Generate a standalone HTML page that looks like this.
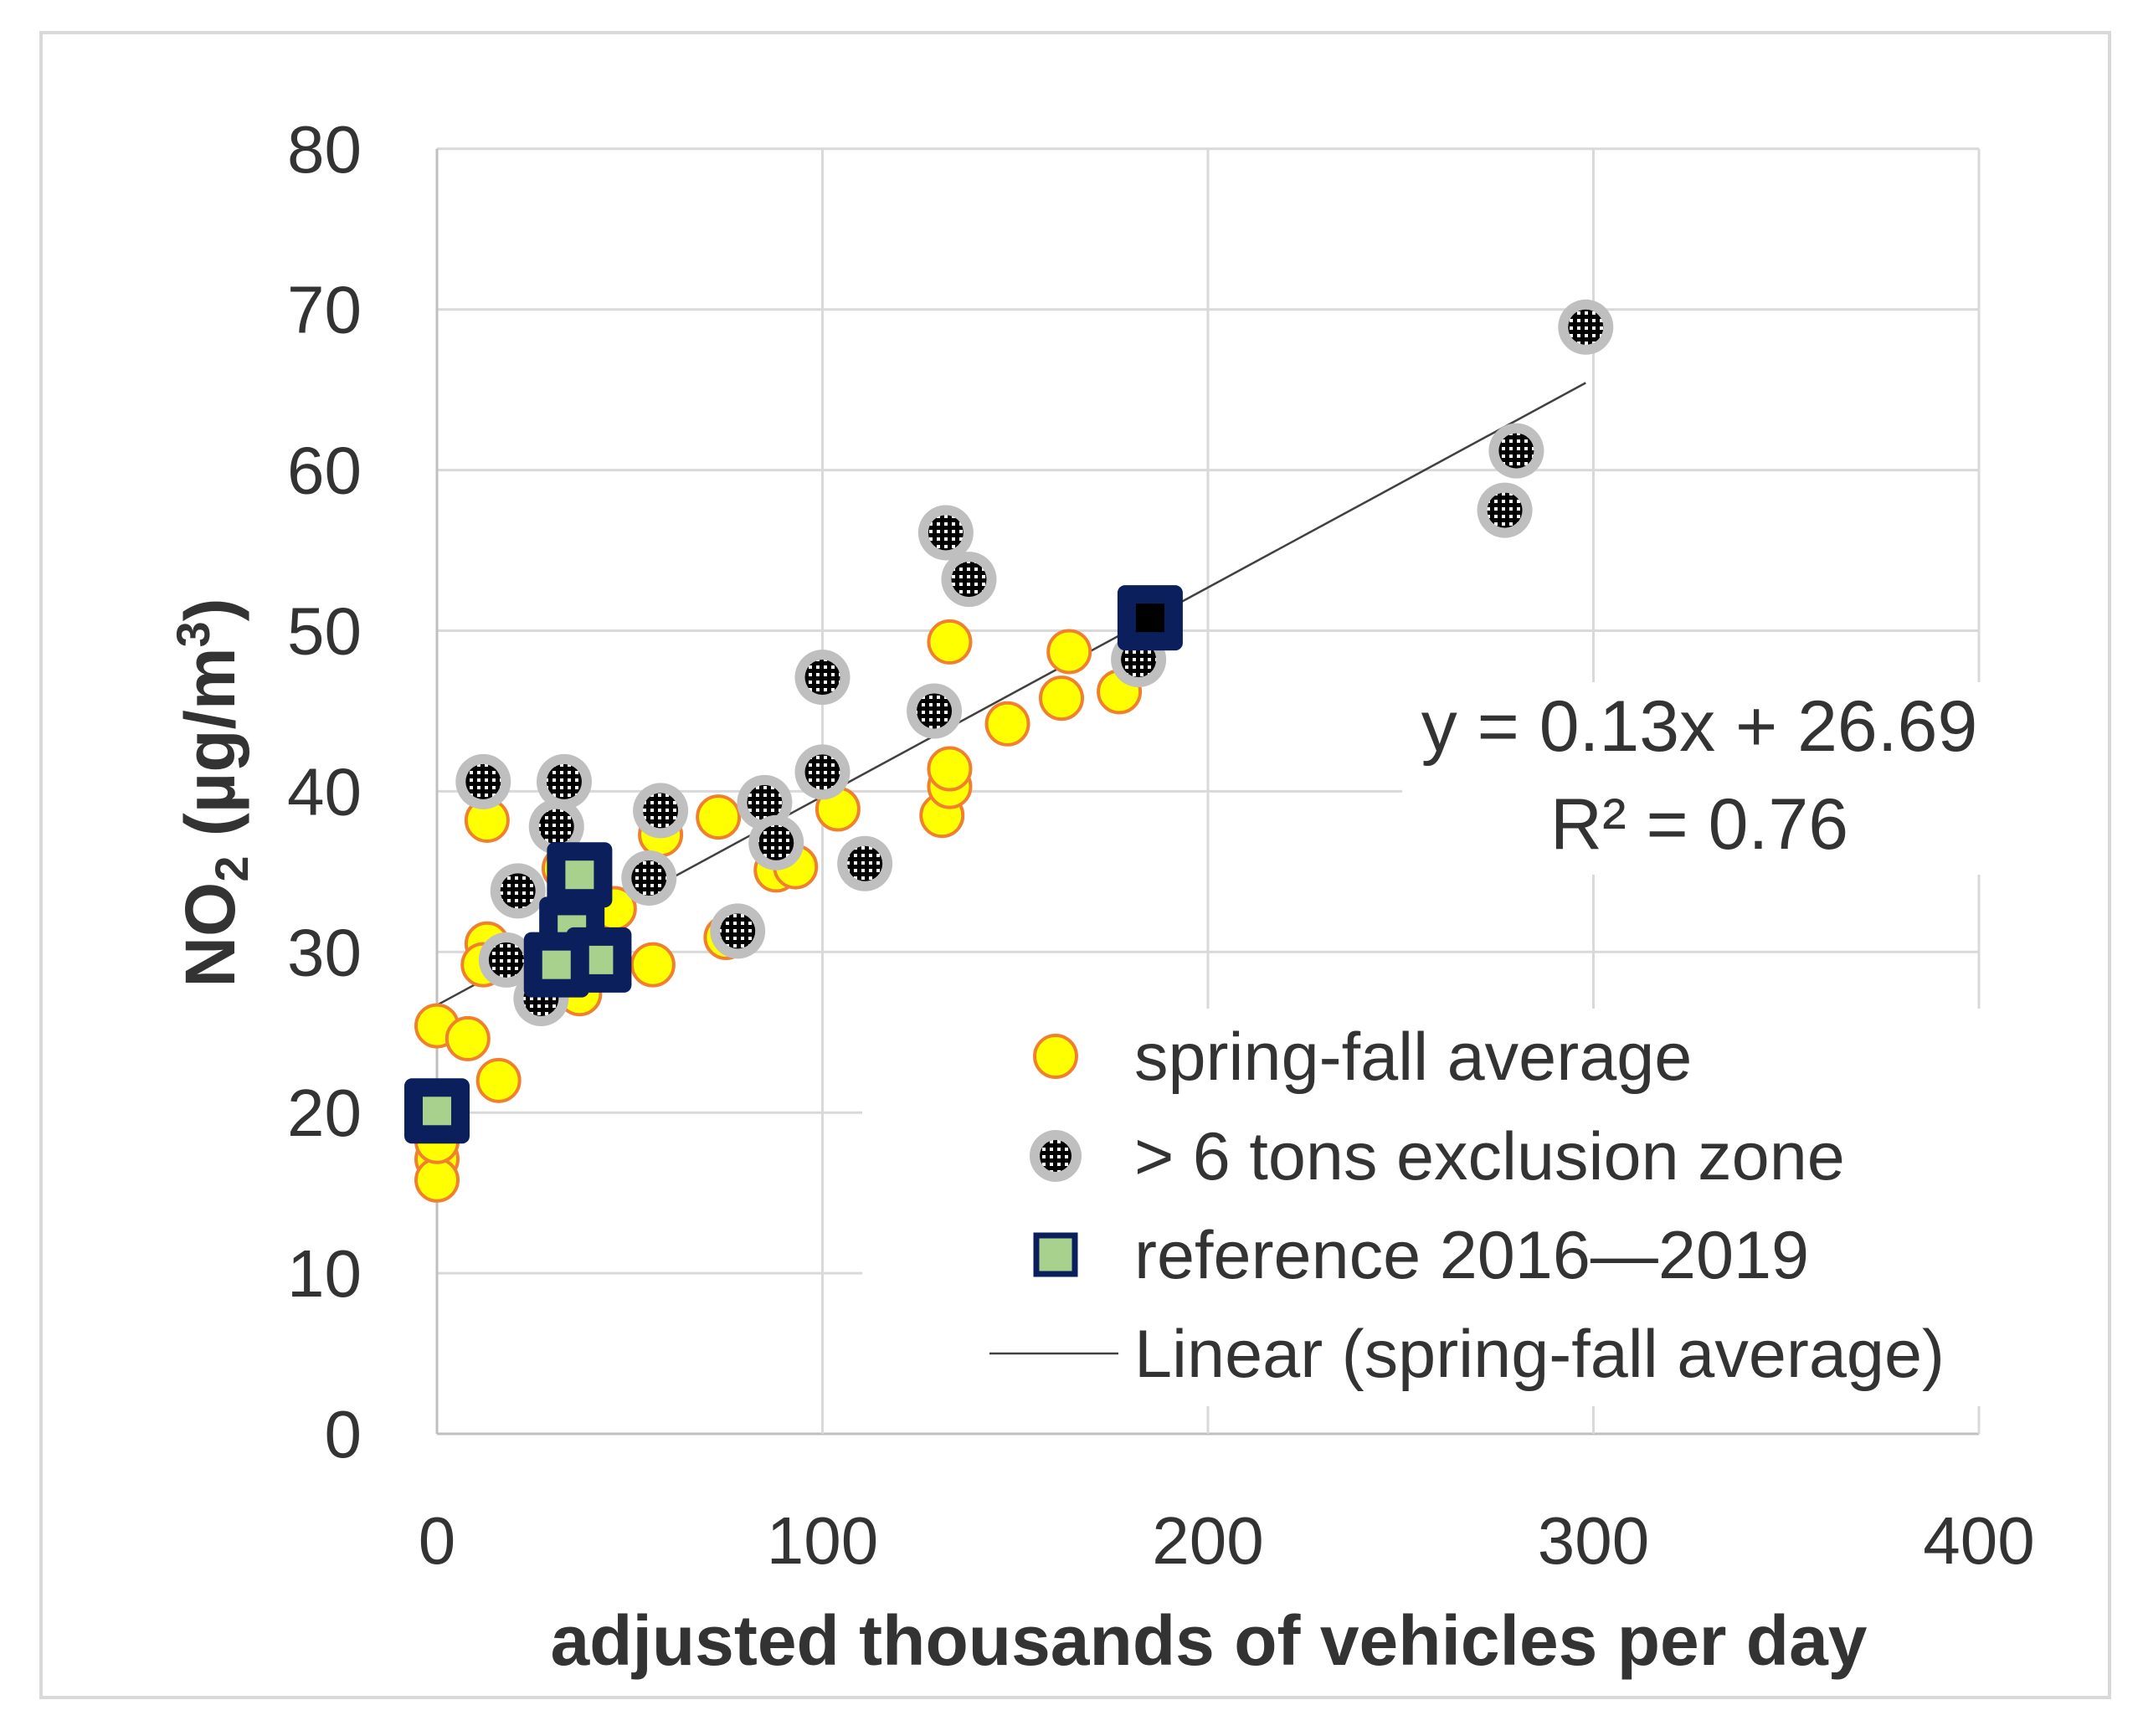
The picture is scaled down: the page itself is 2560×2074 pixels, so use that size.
<!DOCTYPE html>
<html><head><meta charset="utf-8"><style>
html,body{margin:0;padding:0;background:#fff;}
svg{display:block;font-family:"Liberation Sans",sans-serif;}
</style></head><body>
<svg id="chart" width="2560" height="2074" viewBox="0 0 2560 2074">
<defs>
<pattern id="dots" width="9" height="9" patternUnits="userSpaceOnUse"><rect width="9" height="9" fill="#000"/><rect x="3" y="3" width="4" height="4" fill="#fff"/></pattern>
</defs>
<rect x="49" y="39" width="2471" height="1989" fill="#fff" stroke="#d9d9d9" stroke-width="4"/>
<g id="grid"></g>
<g id="ticks"></g>
<line id="trend" stroke="#404040" stroke-width="2.5"/>
<g id="marks"></g>
<rect x="1675" y="815" width="700" height="230" fill="#fff"/>
<text x="2030" y="897" font-size="86" text-anchor="middle" fill="#333">y = 0.13x + 26.69</text>
<text x="2030" y="1014" font-size="86" text-anchor="middle" fill="#333">R² = 0.76</text>
<g id="legend">
<rect x="1030" y="1205" width="1340" height="475" fill="#fff"/>
<g><circle cx="1261" cy="1262" r="25" fill="#ffff00" stroke="#f08030" stroke-width="4"/><text x="1355" y="1290" font-size="81" fill="#333">spring-fall average</text></g>
<g><circle cx="1261" cy="1381" r="31" fill="#bfbfbf"/><circle cx="1261" cy="1381" r="19" fill="url(#dots)"/><text x="1355" y="1409" font-size="81" fill="#333">&gt; 6 tons exclusion zone</text></g>
<g><rect x="1238" y="1476" width="46" height="46" fill="#a9d18e" stroke="#0a1f5c" stroke-width="7"/><text x="1355" y="1527" font-size="81" fill="#333">reference 2016—2019</text></g>
<g><line x1="1182" y1="1617" x2="1336" y2="1617" stroke="#404040" stroke-width="2.5"/><text x="1355" y="1645" font-size="81" fill="#333">Linear (spring-fall average)</text></g>
</g>
<text x="1444" y="1989" font-size="84" font-weight="bold" text-anchor="middle" fill="#333">adjusted thousands of vehicles per day</text>
<text transform="translate(280,947) rotate(-90)" font-size="84" font-weight="bold" text-anchor="middle" fill="#333">NO<tspan font-size="56" dy="16">2</tspan><tspan dy="-16"> (µg/m</tspan><tspan font-size="56" dy="-30">3</tspan><tspan dy="30">)</tspan></text>
</svg>
<script>
const xTicks=[0,100,200,300,400];
const yTicks=[0,10,20,30,40,50,60,70,80];
const springX=[0,8,16,0,0,0,13,13,12,37,46,56,58,73,75,88,93,104,131,133,133,133,148,162,164,177,182,33,30];
const springY=[25.4,24.6,22,17.1,15.8,18.2,38.2,30.5,29.2,27.4,32.7,29.2,37.3,38.4,30.9,35.1,35.3,38.9,38.5,40.3,41.4,49.3,44.2,45.8,48.7,46.2,48.4,35.2,29.7];
const exclX=[12,33,31,21,18,27,55,58,78,85,88,111,100,100,129,132,138,182,277,280,298];
const exclY=[40.6,40.6,37.8,33.8,29.5,27.1,34.6,38.8,31.3,39.3,36.8,35.5,41.2,47.1,45,56.1,53.2,48.2,57.5,61.2,68.9];
const refX=[0,37,35,42,31,185];
const refY=[20.1,34.8,31.4,29.5,29.2,50.8];
const slope=0.13, intercept=26.69, trendEnd=298;
const NS="http://www.w3.org/2000/svg";
const X=v=>522+v*4.605, Y=v=>1713-v*19.19;
function mk(t,a,p){const e=document.createElementNS(NS,t);for(const k in a)e.setAttribute(k,a[k]);p.appendChild(e);return e;}
const grid=document.getElementById('grid'),ticks=document.getElementById('ticks'),marks=document.getElementById('marks');
yTicks.forEach(v=>{const l=mk('line',{x1:X(0),x2:X(400),y1:Y(v),y2:Y(v),stroke:v===0?'#bfbfbf':'#d9d9d9','stroke-width':3},grid);


const t=mk('text',{x:432,y:Y(v)+28,'font-size':80,'text-anchor':'end',fill:'#333'},ticks);t.textContent=v;

});
xTicks.forEach(v=>{const l=mk('line',{x1:X(v),x2:X(v),y1:Y(0),y2:Y(80),stroke:v===0?'#bfbfbf':'#d9d9d9','stroke-width':3},grid);


const t=mk('text',{x:X(v),y:1868,'font-size':80,'text-anchor':'middle',fill:'#333'},ticks);t.textContent=v;

});
const tr=document.getElementById('trend');
tr.setAttribute('x1',X(0));tr.setAttribute('y1',Y(intercept));tr.setAttribute('x2',X(trendEnd));tr.setAttribute('y2',Y(slope*trendEnd+intercept));
springX.forEach((x,i)=>{const c=mk('circle',{cx:X(x),cy:Y(springY[i]),r:25,fill:'#ffff00',stroke:'#f08030','stroke-width':4},marks);

});
exclX.forEach((x,i)=>{const g=mk('g',{},marks);


mk('circle',{cx:X(x),cy:Y(exclY[i]),r:33,fill:'#bfbfbf'},g);mk('circle',{cx:X(x),cy:Y(exclY[i]),r:21,fill:'url(#dots)'},g);});
refX.forEach((x,i)=>{const g=mk('g',{},marks);


mk('rect',{x:X(x)-39,y:Y(refY[i])-39,width:78,height:78,rx:9,fill:'#0a1f5c'},g);
mk('rect',{x:X(x)-17,y:Y(refY[i])-17,width:34,height:34,fill:i===5?'#000':'#a9d18e'},g);});
</script>
</body></html>
